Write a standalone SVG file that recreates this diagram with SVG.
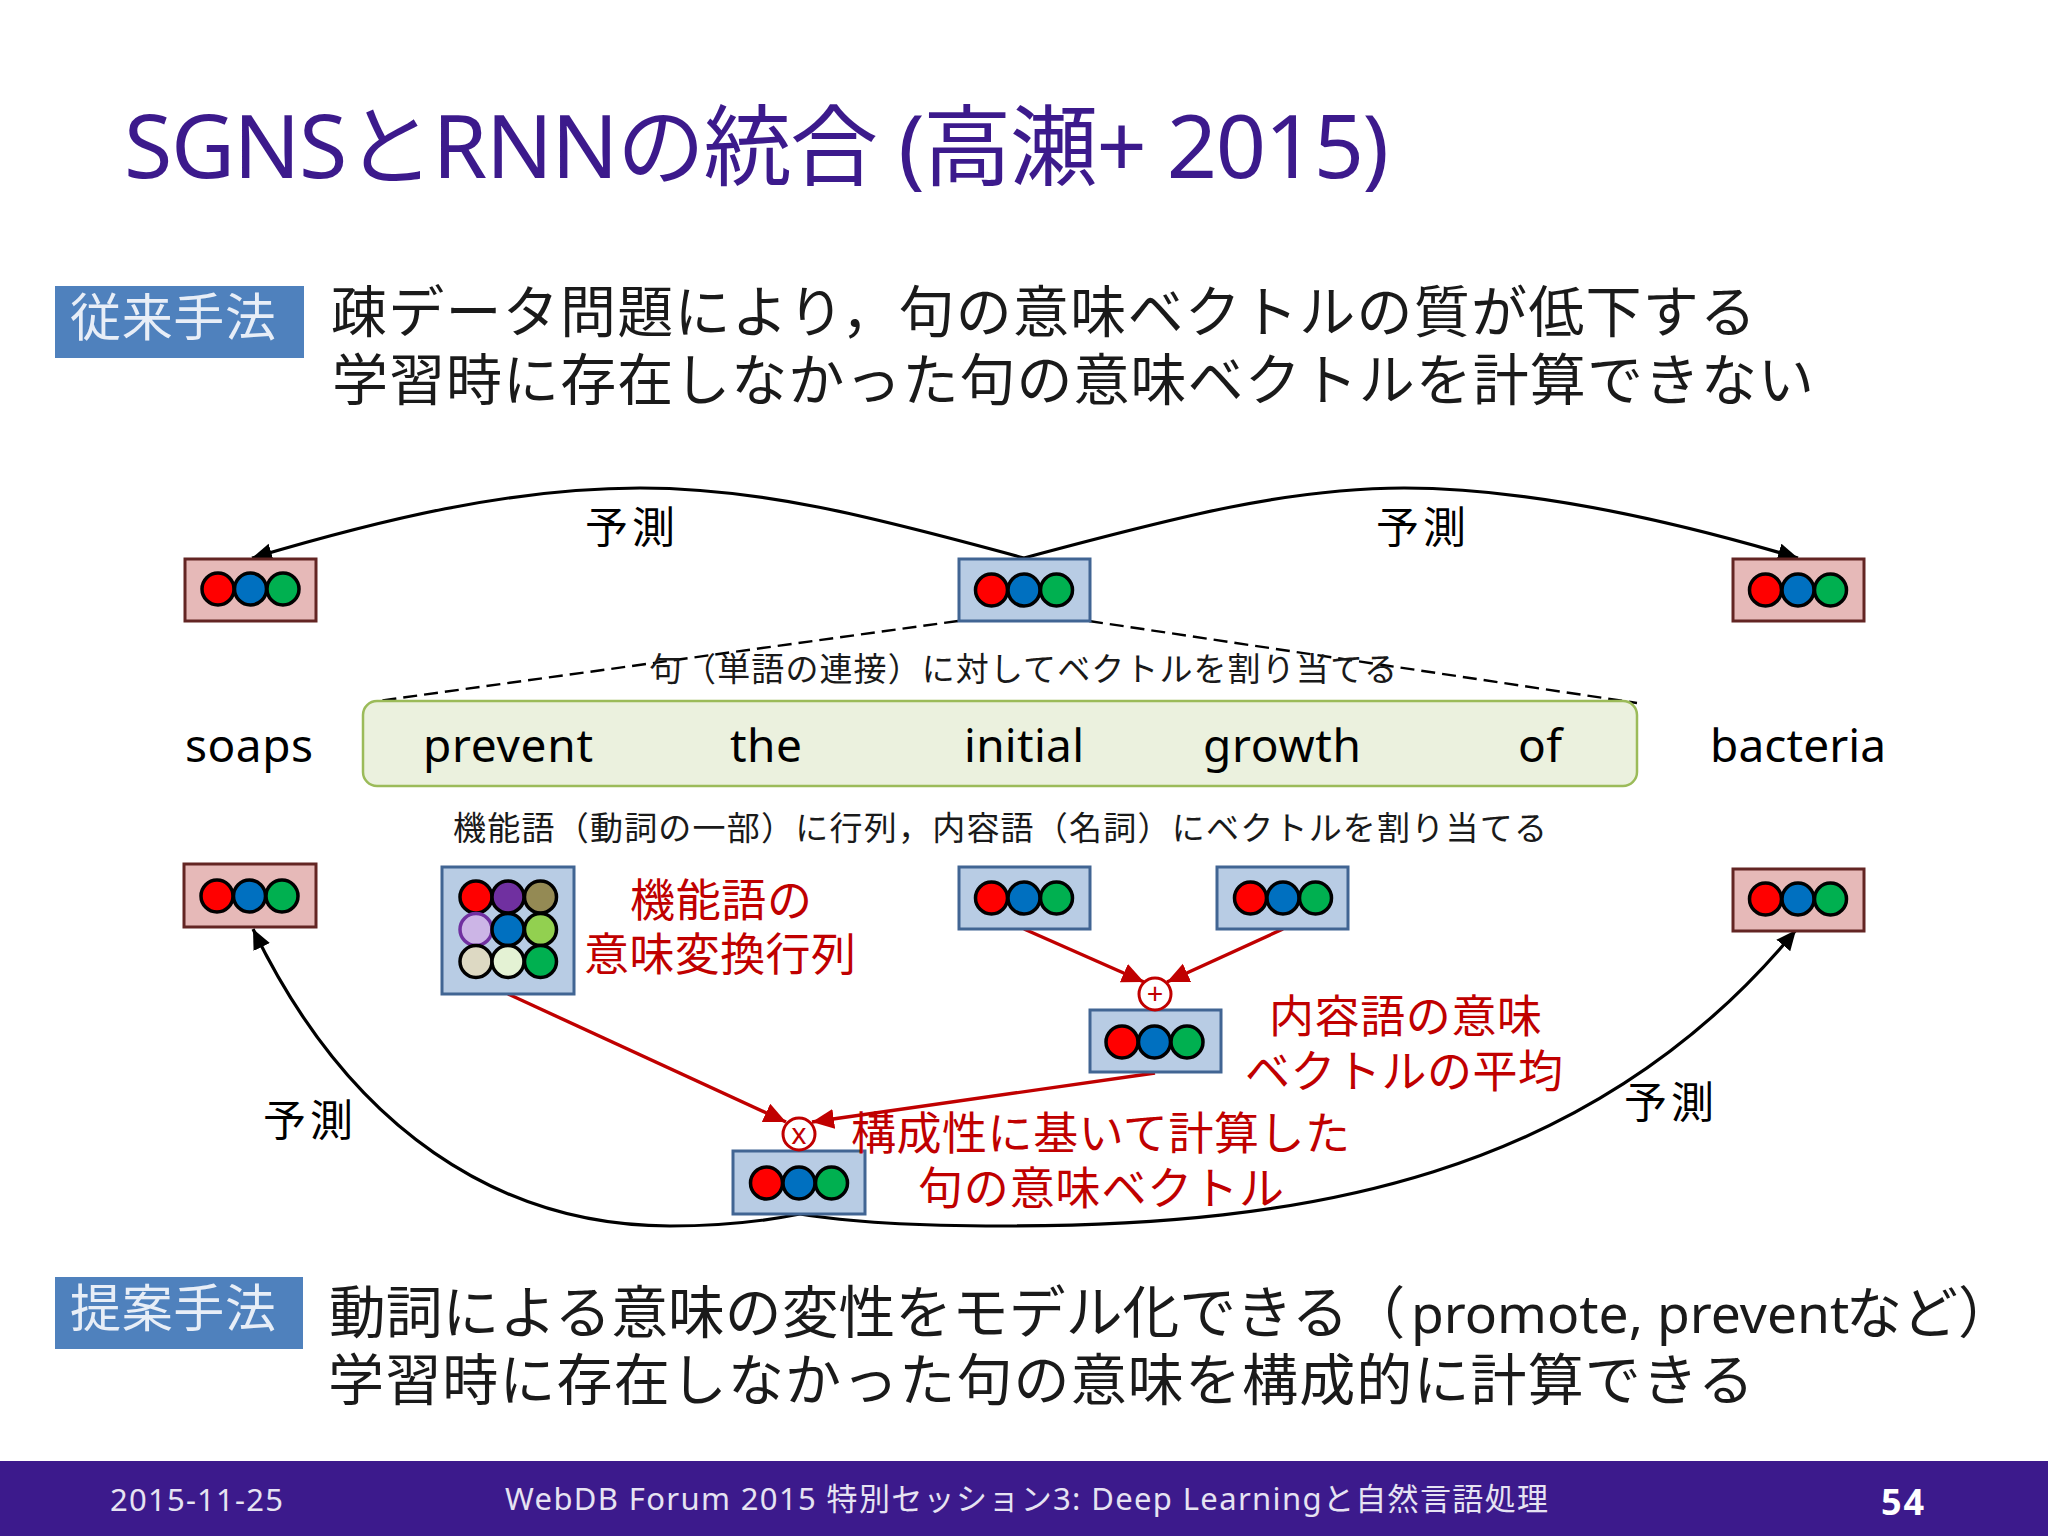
<svg xmlns="http://www.w3.org/2000/svg" xmlns:xlink="http://www.w3.org/1999/xlink" width="2048" height="1536" viewBox="0 0 2048 1536">
<style>
text{font-family:"Noto Sans","Noto Sans CJK JP",sans-serif;fill:#000}
.title{font-size:88px;fill:#3c1a8c}
.tag{font-size:51px;fill:#e8eef7}
.body{font-size:56px;fill:#1a1a1a}
.word{font-size:46px}
.small{font-size:33px;fill:#1a1a1a}
.pred{font-size:43px}
.red{font-size:45px;fill:#c00000}
.foot{font-size:31px;fill:#e6e3f2}
.vb{fill:#b8cce4;stroke:#416593;stroke-width:3}
.vr{fill:#e6b9b8;stroke:#632523;stroke-width:3}
.dot{stroke:#000;stroke-width:3.5}
.op{fill:#fff;stroke:#c00000;stroke-width:3}
.opt{font-size:29px;fill:#c00000;text-anchor:middle}
.curve{fill:none;stroke:#000;stroke-width:3.2;marker-end:url(#ab)}
.rl{fill:none;stroke:#c00000;stroke-width:3.4;marker-end:url(#ar)}
.dash{fill:none;stroke:#000;stroke-width:2.4;stroke-dasharray:14 7}
</style>
<defs>
<marker id="ab" markerUnits="userSpaceOnUse" markerWidth="22" markerHeight="20" refX="20" refY="9" orient="auto"><path d="M0,0 L20,9 L0,18 Z" fill="#000"/></marker>
<marker id="ar" markerUnits="userSpaceOnUse" markerWidth="24" markerHeight="22" refX="22" refY="10" orient="auto"><path d="M0,0 L22,10 L0,20 Z" fill="#c00000"/></marker>
<g id="tri">
<circle class="dot" cx="-32.5" cy="0" r="16" fill="#ff0000"/>
<circle class="dot" cx="0" cy="0" r="16" fill="#0070c0"/>
<circle class="dot" cx="32.5" cy="0" r="16" fill="#00b050"/>
</g>
</defs>
<rect width="2048" height="1536" fill="#fff"/>
<text class="title" x="124" y="178" textLength="1265" lengthAdjust="spacing">SGNSとRNNの統合 (高瀬+ 2015)</text>

<g id="tag-old"><rect x="55" y="286" width="249" height="72" fill="#4f81bd"/><text class="tag" x="70" y="336" textLength="206">従来手法</text></g>
<text class="body" x="331" y="332" textLength="1425">疎データ問題により，句の意味ベクトルの質が低下する</text>
<text class="body" x="332" y="400" textLength="1482">学習時に存在しなかった句の意味ベクトルを計算できない</text>

<g id="connectors">
<path class="curve" d="M1024,558 C870,516 760,488 640,488 C510,488 380,520 252,558"/>
<path class="curve" d="M1024,558 C1180,516 1290,488 1404,488 C1530,488 1670,520 1798,558"/>
<path class="dash" d="M958,621 L378,701"/>
<path class="dash" d="M1089,621 L1637,703"/>
<path class="curve" d="M800,1214 C760,1222 720,1226 670,1226 C500,1226 350,1130 253,929"/>
<path class="curve" d="M800,1214 C860,1224 930,1226 1002,1226 C1300,1226 1590,1180 1796,930"/>
<path class="rl" d="M1024,929 L1144,982"/>
<path class="rl" d="M1283,929 L1167,982"/>
<path class="rl" d="M508,994 L786,1122"/>
<path class="rl" d="M1155,1073 L812,1122"/>
</g>

<g id="vec-top-left"><rect class="vr" x="185" y="559" width="131" height="62"/><use xlink:href="#tri" x="250.5" y="589"/></g>
<g id="vec-top-center"><rect class="vb" x="959" y="559" width="131" height="62"/><use xlink:href="#tri" x="1024" y="590"/></g>
<g id="vec-top-right"><rect class="vr" x="1733" y="559" width="131" height="62"/><use xlink:href="#tri" x="1798" y="590"/></g>

<g id="phrase"><rect x="363" y="701" width="1274" height="85" rx="14" fill="#ebf1de" stroke="#9bbb59" stroke-width="2.5"/></g>
<text class="word" x="185" y="762" textLength="128">soaps</text>
<text class="word" x="423" y="762" textLength="170">prevent</text>
<text class="word" x="730" y="762" textLength="72">the</text>
<text class="word" x="964" y="762" textLength="120">initial</text>
<text class="word" x="1203" y="762" textLength="158">growth</text>
<text class="word" x="1518" y="762" textLength="44">of</text>
<text class="word" x="1710" y="762" textLength="176">bacteria</text>

<text class="small" x="649" y="681" textLength="748">句（単語の連接）に対してベクトルを割り当てる</text>
<text class="small" x="453" y="840" textLength="1094">機能語（動詞の一部）に行列，内容語（名詞）にベクトルを割り当てる</text>

<g id="vec-mid-left"><rect class="vr" x="184" y="864" width="132" height="63"/><use xlink:href="#tri" x="249.5" y="896"/></g>
<g id="matrix"><rect class="vb" x="442" y="867" width="132" height="127"/>
<circle class="dot" cx="476" cy="897" r="16" fill="#ff0000"/><circle class="dot" cx="508" cy="897" r="16" fill="#7030a0"/><circle class="dot" cx="540.5" cy="897" r="16" fill="#948a54"/>
<circle cx="476" cy="929.5" r="16" fill="#ccb5e6" stroke="#7030a0" stroke-width="3.5"/><circle class="dot" cx="508" cy="929.5" r="16" fill="#0070c0"/><circle class="dot" cx="540.5" cy="929.5" r="16" fill="#92d050"/>
<circle class="dot" cx="476" cy="961.5" r="16" fill="#ddd9c3"/><circle class="dot" cx="508" cy="961.5" r="16" fill="#e4f2d4"/><circle class="dot" cx="540.5" cy="961.5" r="16" fill="#00b050"/></g>
<g id="vec-initial"><rect class="vb" x="959" y="867" width="131" height="62"/><use xlink:href="#tri" x="1024" y="898"/></g>
<g id="vec-growth"><rect class="vb" x="1217" y="867" width="131" height="62"/><use xlink:href="#tri" x="1283" y="898"/></g>
<g id="vec-mid-right"><rect class="vr" x="1733" y="869" width="131" height="62"/><use xlink:href="#tri" x="1798" y="899"/></g>
<g id="vec-avg"><rect class="vb" x="1090" y="1010" width="131" height="62"/><use xlink:href="#tri" x="1154.5" y="1042"/></g>
<g id="vec-comp"><rect class="vb" x="733" y="1151" width="132" height="63"/><use xlink:href="#tri" x="799" y="1183"/></g>
<g id="op-plus"><circle class="op" cx="1155" cy="994" r="16"/><text class="opt" x="1155" y="1004">+</text></g>
<g id="op-times"><circle class="op" cx="799" cy="1134" r="16"/><text class="opt" x="799" y="1144">x</text></g>

<text class="red" x="630" y="917" textLength="182">機能語の</text>
<text class="red" x="584" y="971" textLength="272">意味変換行列</text>
<text class="red" x="1269" y="1033" textLength="273">内容語の意味</text>
<text class="red" x="1245" y="1088" textLength="318">ベクトルの平均</text>
<text class="red" x="851" y="1150" textLength="499">構成性に基いて計算した</text>
<text class="red" x="918" y="1205" textLength="366">句の意味ベクトル</text>

<text class="pred" x="585" y="543" textLength="90">予測</text>
<text class="pred" x="1376" y="543" textLength="90">予測</text>
<text class="pred" x="263" y="1136" textLength="90">予測</text>
<text class="pred" x="1624" y="1118" textLength="90">予測</text>

<g id="tag-new"><rect x="55" y="1277" width="248" height="72" fill="#4f81bd"/><text class="tag" x="70" y="1327" textLength="206">提案手法</text></g>
<text class="body" x="329" y="1333"><tspan style="font-size:56.8px">動詞による意味の変性をモデル化できる（</tspan><tspan x="1411" style="font-size:53.4px">promote, prevent</tspan><tspan x="1846">など）</tspan></text>
<text class="body" x="328" y="1400" textLength="1426">学習時に存在しなかった句の意味を構成的に計算できる</text>

<g id="footer"><rect x="0" y="1461" width="2048" height="75" fill="#3c1a8c"/>
<text class="foot" x="110" y="1511" textLength="173">2015-11-25</text>
<text class="foot" x="505" y="1510" textLength="1043">WebDB Forum 2015 特別セッション3: Deep Learningと自然言語処理</text>
<text class="foot" x="1881" y="1515" textLength="43" style="font-size:36px;font-weight:700;fill:#fff">54</text></g>
</svg>
